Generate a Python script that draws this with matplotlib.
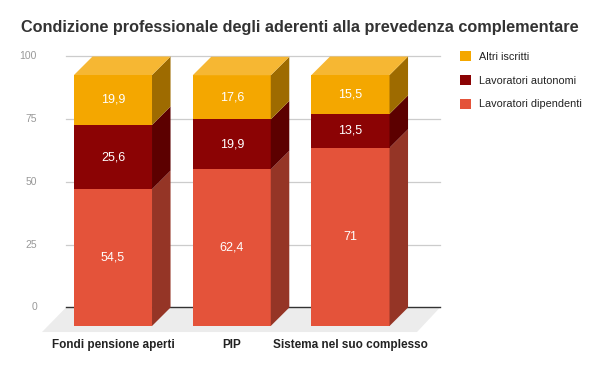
import matplotlib
matplotlib.use("Agg")
import matplotlib.pyplot as plt
from matplotlib.patches import Polygon, Rectangle, Patch

plt.rcParams['font.family'] = ['Liberation Sans', 'DejaVu Sans']

categories = ["Fondi pensione aperti", "PIP", "Sistema nel suo complesso"]
series_names = ["Lavoratori dipendenti", "Lavoratori autonomi", "Altri iscritti"]
dipendenti = [54.5, 62.4, 71]
autonomi = [25.6, 19.9, 13.5]
altri = [19.9, 17.6, 15.5]
value_labels = [["54,5", "62,4", "71"], ["25,6", "19,9", "13,5"], ["19,9", "17,6", "15,5"]]
yticks = [0, 25, 50, 75, 100]

series = [dipendenti, autonomi, altri]
front_colors = ["#E4533A", "#8B0304", "#F4A700"]
side_colors = ["#953526", "#5C0000", "#9E6B00"]
top_colors = ["#EF7A63", "#A52A2A", "#F6B733"]

fig = plt.figure(figsize=(6, 3.71), dpi=100)
ax = fig.add_axes([0, 0, 1, 1])
ax.set_xlim(-0.9516, 4.101)
ax.set_ylim(-17.93, 129.88)
ax.axis('off')

width = 0.657
dx = 0.156   # depth offset in x units
dy = 7.37    # depth offset in y units

# floor
floor = Polygon([(-0.598, -2.4), (2.56, -2.4), (2.754, dy), (-0.396, dy)],
                closed=True, facecolor="#ECECEC", edgecolor="none", zorder=1)
ax.add_patch(floor)

# gridlines on the back plane
gx0, gx1 = -0.396, 2.754
for t in yticks:
    if t == 0:
        ax.plot([gx0, gx1], [t + dy, t + dy], color="#333333", lw=1.0, zorder=2)
    else:
        ax.plot([gx0, gx1], [t + dy, t + dy], color="#CCCCCC", lw=0.9, zorder=1.5)
    ax.text(-0.64, t + dy, str(t), ha='right', va='center', fontsize=7.5, color="#999999")

# bars
for i in range(len(categories)):
    bottom = 0
    for s in range(len(series)):
        v = series[s][i]
        x0 = i - width / 2
        x1 = i + width / 2
        ax.add_patch(Rectangle((x0, bottom), width, v, facecolor=front_colors[s],
                               edgecolor='none', zorder=3))
        side = Polygon([(x1, bottom), (x1 + dx, bottom + dy), (x1 + dx, bottom + v + dy), (x1, bottom + v)],
                       closed=True, facecolor=side_colors[s], edgecolor='none', zorder=3)
        ax.add_patch(side)
        ax.text(i, bottom + v / 2, value_labels[s][i], ha='center', va='center',
                fontsize=9, color='white', zorder=4)
        bottom += v
    top = Polygon([(i - width / 2, bottom), (i + width / 2, bottom),
                   (i + width / 2 + dx, bottom + dy), (i - width / 2 + dx, bottom + dy)],
                  closed=True, facecolor=top_colors[len(series) - 1], edgecolor='none', zorder=3)
    ax.add_patch(top)
    ax.text(i, -7.7, categories[i], ha='center', va='center', fontsize=8.5,
            fontweight='bold', color="#222222")

fig.text(0.5, 0.927, "Condizione professionale degli aderenti alla prevedenza complementare",
         ha='center', va='center', fontsize=11.7, fontweight='bold', color="#333333")

handles = [Patch(facecolor=front_colors[s], edgecolor='none', label=series_names[s])
           for s in [2, 1, 0]]
fig.legend(handles=handles, loc='upper left', bbox_to_anchor=(0.766, 0.862),
           frameon=False, fontsize=7.8, handlelength=1.05, handleheight=1.05,
           handletextpad=0.75, labelspacing=1.2, borderaxespad=0, borderpad=0,
           labelcolor="#222222")

fig.savefig("out.png", dpi=100)
